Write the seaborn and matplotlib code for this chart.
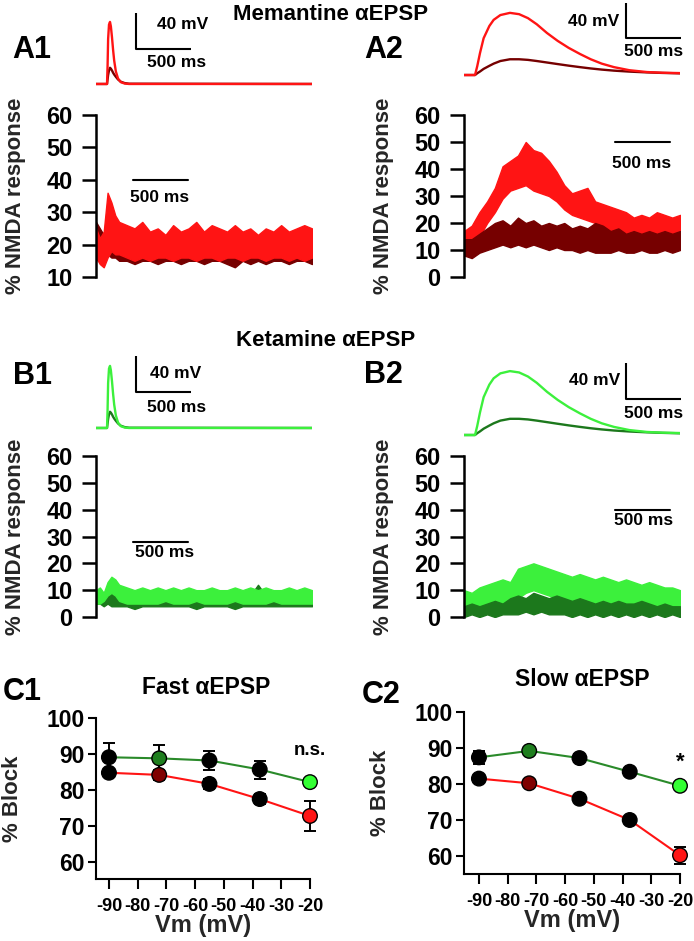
import matplotlib
matplotlib.use("Agg")
import matplotlib.pyplot as plt
import seaborn as sns

W, H = 694, 941

# ---- EPSP voltage traces (ms, mV) ----
FAST_T = [0, 100, 105, 110, 118, 127, 135, 145, 155, 165, 180, 200, 225, 260, 300, 1960]
FAST_DRUG = [0, 0, 20, 50, 66, 69, 64, 52, 38, 26, 14, 6, 2, 0.5, 0, 0]
FAST_CTRL = [0, 0, 5, 10, 15, 18, 17, 15, 12.5, 10.5, 8, 5, 2.5, 1, 0.3, 0]

SLOW_T = [0, 100, 120, 145, 178, 230, 269, 330, 417, 500, 580, 660, 753, 850, 950, 1053,
          1150, 1250, 1361, 1500, 1660, 1800, 1960]
SLOW_DRUG = [0, 0, 10, 25, 42, 56, 63, 68.5, 71, 69.5, 65, 58, 48, 39, 31, 24,
             18, 13, 9, 5.5, 3.4, 2.6, 2.2]
SLOW_CTRL = [0, 0, 2, 4, 7, 10.5, 13, 16, 18, 18, 17.3, 16, 14.3, 12.5, 10.7, 9,
             7.5, 6.2, 5, 3.9, 3, 2.4, 1.9]

# ---- % NMDA response traces, noise envelopes (upper / lower) ----
FAST_NT = [0, 35, 70, 105, 140, 175, 210, 280, 350, 420, 490, 560, 630, 700, 770, 840,
           910, 980, 1050, 1120, 1190, 1260, 1330, 1400, 1470, 1540, 1610, 1680, 1750,
           1820, 1890, 1960]
SLOW_NT = list(range(0, 1961, 70))

A1_MEM_HI = [25, 22, 24, 36, 33, 29, 27, 26, 25, 27, 24, 25, 23, 26, 24, 25,
             27, 24, 26, 25, 24, 26, 24, 25, 23, 25, 24, 26, 24, 25, 26, 25]
A1_MEM_LO = [16, 14, 13, 16, 18, 17, 17, 16, 15, 16, 15, 16, 16, 15, 16, 16,
             15, 16, 16, 15, 16, 16, 15, 16, 16, 15, 16, 16, 15, 16, 15, 16]
A1_CTL_HI = [27, 25, 23, 27, 24, 22, 23, 22, 23, 22, 23, 22, 22, 23, 22, 23,
             22, 22, 23, 22, 23, 22, 22, 23, 22, 23, 22, 22, 23, 22, 23, 22]
A1_CTL_LO = [15, 17, 18, 17, 16, 16, 15, 15, 14, 15, 15, 14, 15, 15, 14, 15,
             15, 14, 15, 15, 14, 13, 15, 14, 15, 14, 15, 15, 14, 15, 15, 14]

A2_MEM_HI = [17, 19, 24, 28, 33, 41, 43, 45, 50, 47, 46, 43, 39, 34, 31, 32, 33, 28,
             27, 26, 25, 24, 22, 23, 22, 24, 23, 22, 23]
A2_MEM_LO = [12, 12, 15, 20, 24, 29, 32, 33, 34, 32, 31, 30, 28, 25, 23, 22, 21, 20,
             18, 17, 16, 15, 14, 14, 13, 15, 14, 13, 13]
A2_CTL_HI = [14, 14, 16, 18, 20, 21, 19, 22, 20, 21, 19, 20, 19, 20, 18, 19, 18, 20,
             19, 17, 18, 16, 17, 16, 17, 16, 17, 16, 17]
A2_CTL_LO = [8, 7, 9, 10, 11, 12, 11, 12, 11, 12, 11, 10, 11, 10, 10, 9, 10, 9,
             9, 9, 10, 9, 9, 10, 9, 9, 10, 9, 10]

B1_KET_HI = [10, 11, 9, 13, 15, 14, 12, 11, 10, 11, 10, 11, 10, 11, 10, 11,
             10, 10, 11, 10, 10, 11, 10, 11, 10, 11, 10, 10, 11, 10, 11, 10]
B1_KET_LO = [5, 5, 6, 8, 9, 8, 6, 5, 5, 5, 5, 5, 6, 5, 5, 5,
             6, 5, 5, 5, 5, 6, 5, 5, 5, 5, 6, 5, 5, 5, 5, 5]
B1_CTL_HI = [9, 10, 8, 9, 10, 8, 9, 8, 8, 9, 8, 9, 8, 8, 9, 8,
             9, 8, 8, 9, 8, 8, 9, 8, 12, 8, 9, 8, 9, 8, 9, 8]
B1_CTL_LO = [5, 5, 4, 5, 4, 4, 4, 4, 3, 4, 4, 4, 4, 4, 4, 4,
             3, 4, 4, 4, 4, 3, 4, 4, 4, 4, 4, 4, 4, 4, 4, 4]

B2_KET_HI = [10, 9, 11, 12, 13, 14, 13, 18, 19, 20, 19, 18, 17, 16, 15, 16, 15, 14,
             15, 14, 13, 14, 13, 12, 13, 12, 11, 11, 10]
B2_KET_LO = [1, 2, 2, 3, 3, 4, 5, 7, 9, 10, 9, 8, 7, 6, 5, 5, 4, 4,
             4, 3, 3, 3, 3, 2, 2, 2, 2, 2, 2]
B2_CTL_HI = [4, 5, 4, 5, 6, 5, 7, 8, 7, 9, 8, 7, 8, 7, 6, 7, 6, 5,
             6, 5, 6, 5, 5, 6, 5, 4, 5, 4, 4]
B2_CTL_LO = [0, 1, 0, 1, 0, 1, 1, 1, 2, 1, 2, 1, 1, 1, 0, 1, 0, 1,
             0, 1, 0, 1, 0, 1, 0, 1, 0, 1, 0]

# ---- % block vs membrane potential ----
VM = [-90, -72.5, -55, -37.5, -20]
VM_TICKS = [-90, -80, -70, -60, -50, -40, -30, -20]
C1_KET = [89.1, 88.8, 88.2, 85.7, 82.2]
C1_KET_ERR = [4.0, 3.7, 2.6, 2.5, 0.5]
C1_MEM = [84.8, 84.2, 81.7, 77.5, 72.8]
C1_MEM_ERR = [1.0, 1.5, 1.3, 1.5, 4.1]
C2_KET = [87.4, 89.2, 87.2, 83.4, 79.5]
C2_KET_ERR = [1.9, 1.0, 1.0, 0.8, 1.0]
C2_MEM = [81.5, 80.2, 75.9, 70.0, 60.2]
C2_MEM_ERR = [1.0, 1.0, 0.8, 1.0, 2.4]

RED = "#ff1414"
DARK_RED = "#760000"
GREEN = "#3cf03c"
DARK_GREEN = "#1c781c"
LINE_GREEN = "#2a8a2a"
MARK_DARK_GREEN = "#1f7f1f"
MARK_GREEN = "#33ff33"
MARK_DARK_RED = "#800000"

sns.set_theme(style="ticks")
plt.rcParams["font.family"] = ["Liberation Sans", "DejaVu Sans"]
plt.rcParams["font.weight"] = "bold"
plt.rcParams["axes.labelweight"] = "bold"
plt.rcParams["axes.edgecolor"] = "black"
plt.rcParams["xtick.color"] = "black"
plt.rcParams["ytick.color"] = "black"
plt.rcParams["text.color"] = "black"

fig = plt.figure(figsize=(W / 100, H / 100), dpi=100)


def rect(x0, y0, x1, y1):
    return [x0 / W, 1 - y1 / H, (x1 - x0) / W, (y1 - y0) / H]


def ftext(x, y, s, size, **kw):
    fig.text(x / W, 1 - y / H, s, fontsize=size, fontweight="bold", **kw)


def epsp_panel(r, ylim, t, drug, ctrl, c_drug, c_ctrl, bar_x, bar_y, mv_pos, ms_pos):
    ax = fig.add_axes(r)
    sns.lineplot(x=t, y=ctrl, color=c_ctrl, lw=1.7, sort=False, ax=ax)
    sns.lineplot(x=t, y=drug, color=c_drug, lw=1.7, sort=False, ax=ax)
    ax.set_xlim(0, 1960)
    ax.set_ylim(*ylim)
    ax.axis("off")
    ax.plot([bar_x, bar_x, bar_x + 500], [bar_y + 40, bar_y, bar_y],
            color="black", lw=1.5, clip_on=False, solid_capstyle="butt")
    ax.text(mv_pos[0], mv_pos[1], "40 mV", fontsize=12.5, fontweight="bold",
            ha=mv_pos[2], va="center")
    ax.text(ms_pos[0], ms_pos[1], "500 ms", fontsize=12.5, fontweight="bold",
            ha=ms_pos[2], va="center")
    return ax


def noise_panel(r, ylim, t, d_hi, d_lo, c_hi, c_lo, c_drug, c_ctrl, drug_top, bar):
    ax = fig.add_axes(r)
    layers = [(c_hi, c_lo, c_ctrl), (d_hi, d_lo, c_drug)]
    if not drug_top:
        layers = layers[::-1]
    for hi, lo, col in layers:
        ax.fill_between(t, lo, hi, color=col, lw=1.0, edgecolor=col)
    ax.set_xlim(0, 1960)
    ax.set_ylim(*ylim)
    ax.set_yticks(range(ylim[0], 61, 10))
    ax.set_xticks([])
    sns.despine(ax=ax, bottom=True)
    ax.spines["left"].set_linewidth(1.8)
    ax.tick_params(axis="y", length=10, width=1.8, labelsize=17, pad=7)
    for lab in ax.get_yticklabels():
        lab.set_fontweight("bold")
    ax.set_ylabel("% NMDA response", fontsize=16, fontweight="bold")
    ax.yaxis.set_label_coords(-0.325, 0.5)
    bx, by, tx, ty = bar
    ax.plot([bx, bx + 500], [by, by], color="black", lw=1.5)
    ax.text(tx, ty, "500 ms", fontsize=12.5, fontweight="bold", ha="center", va="center")
    ax.patch.set_alpha(0)
    return ax


def block_panel(r, ylim, xlim, ket, ket_err, mem, mem_err, note, note_y, note_size):
    ax = fig.add_axes(r)
    for vals, err, line_col, cols in [
        (ket, ket_err, LINE_GREEN, ["black", MARK_DARK_GREEN, "black", "black", MARK_GREEN]),
        (mem, mem_err, RED, ["black", MARK_DARK_RED, "black", "black", RED]),
    ]:
        sns.lineplot(x=VM, y=vals, color=line_col, lw=1.5, sort=False, ax=ax, zorder=2)
        ax.errorbar(VM, vals, yerr=err, fmt="none", ecolor="black", elinewidth=1.4,
                    capsize=4, capthick=1.4, zorder=3, clip_on=False)
        ax.scatter(VM, vals, s=110, c=cols, edgecolors="black", linewidths=1.0,
                   zorder=4, clip_on=False)
    ax.set_xlim(*xlim)
    ax.set_ylim(*ylim)
    ax.set_xticks(VM_TICKS)
    ax.set_xticklabels([str(v) for v in VM_TICKS])
    ax.set_yticks([60, 70, 80, 90, 100])
    sns.despine(ax=ax)
    for s in ["left", "bottom"]:
        ax.spines[s].set_linewidth(1.5)
    ax.tick_params(axis="y", length=6, width=1.5, labelsize=16.5, pad=2)
    ax.tick_params(axis="x", length=7, width=1.5, labelsize=13, pad=7)
    for lab in ax.get_xticklabels() + ax.get_yticklabels():
        lab.set_fontweight("bold")
    ax.set_ylabel("% Block", fontsize=16, fontweight="bold")
    ax.yaxis.set_label_coords(-0.34, 0.5)
    ax.set_xlabel("Vm (mV)", fontsize=17, fontweight="bold")
    ax.xaxis.set_label_coords(0.5, -0.215)
    ax.text(-20, note_y, note, fontsize=note_size, fontweight="bold", ha="center", va="center")
    ax.patch.set_alpha(0)
    return ax


# ---- Memantine ----
epsp_panel(rect(96, 5, 312, 90), (-6.7, 87.8), FAST_T, FAST_DRUG, FAST_CTRL, RED, DARK_RED,
           363, 38.9, (553, 65.6, "left"), (465, 24.4, "left"))
epsp_panel(rect(464, 0, 680, 85), (-11.4, 85.7), SLOW_T, SLOW_DRUG, SLOW_CTRL, RED, DARK_RED,
           1470, 42.3, (1406, 60.6, "right"), (1724, 26.3, "center"))
noise_panel(rect(96, 115, 312, 277), (10, 60), FAST_NT, A1_MEM_HI, A1_MEM_LO,
            A1_CTL_HI, A1_CTL_LO, RED, DARK_RED, True, (336, 40, 581, 34.4))
noise_panel(rect(464, 115, 680, 277), (0, 60), SLOW_NT, A2_MEM_HI, A2_MEM_LO,
            A2_CTL_HI, A2_CTL_LO, RED, DARK_RED, False, (1370, 50, 1615, 41.9))

# ---- Ketamine ----
epsp_panel(rect(96, 345, 312, 435), (-7.8, 92.2), FAST_T, FAST_DRUG, FAST_CTRL, GREEN, DARK_GREEN,
           363, 40, (490, 61, "left"), (463, 23.3, "left"))
epsp_panel(rect(464, 355, 680, 445), (-11.1, 88.9), SLOW_T, SLOW_DRUG, SLOW_CTRL, GREEN, DARK_GREEN,
           1470, 40, (1416, 61, "right"), (1724, 24.4, "center"))
noise_panel(rect(96, 456, 312, 617), (0, 60), FAST_NT, B1_KET_HI, B1_KET_LO,
            B1_CTL_HI, B1_CTL_LO, GREEN, DARK_GREEN, True, (336, 28, 626, 23.9))
noise_panel(rect(464, 456, 680, 617), (0, 60), SLOW_NT, B2_KET_HI, B2_KET_LO,
            B2_CTL_HI, B2_CTL_LO, GREEN, DARK_GREEN, False, (1370, 40, 1633, 36.1))

# ---- Block vs Vm ----
block_panel(rect(96, 718, 310, 879), (55.3, 100), (-94.5, -20), C1_KET, C1_KET_ERR,
            C1_MEM, C1_MEM_ERR, "n.s.", 91.1, 13.5)
block_panel(rect(464, 712, 680, 874), (55, 100), (-95.2, -20), C2_KET, C2_KET_ERR,
            C2_MEM, C2_MEM_ERR, "*", 86.1, 16)

# ---- titles and panel letters ----
ftext(331, 15, "Memantine αEPSP", 16, ha="center", va="center")
ftext(326, 341, "Ketamine αEPSP", 16, ha="center", va="center")
ftext(206, 687, "Fast αEPSP", 16.5, ha="center", va="center")
ftext(582, 679, "Slow αEPSP", 16.5, ha="center", va="center")
for lab, x, y in [("A1", 12, 50), ("A2", 364, 50), ("B1", 13, 376), ("B2", 364, 375),
                  ("C1", 3, 692), ("C2", 362, 695)]:
    ftext(x, y, lab, 22, ha="left", va="center")

fig.savefig("out.png", dpi=100)
